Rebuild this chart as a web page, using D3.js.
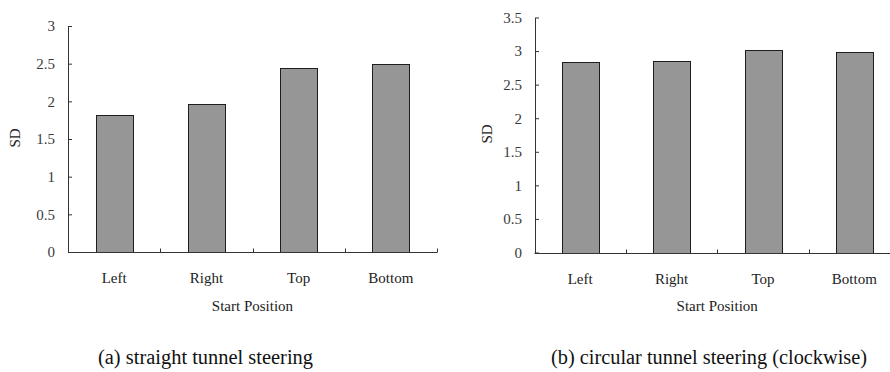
<!DOCTYPE html>
<html>
<head>
<meta charset="utf-8">
<script src="https://cdn.jsdelivr.net/npm/d3@7"></script>
<style>
  html, body { margin: 0; padding: 0; background: #fff; }
  svg { display: block; }
  svg text { font-family: "Liberation Serif", "Times New Roman", serif !important; }
</style>
</head>
<body>
<svg id="chart" width="890" height="372"></svg>
<script>
// Start positions shared by both panels
const categories = ["Left", "Right", "Top", "Bottom"];

// Standard deviation per start position
const straightSD = [1.82, 1.97, 2.44, 2.49];
const circularSD = [2.83, 2.85, 3.01, 2.99];

// Value-axis ticks for each panel
const straightTicks = [0, 0.5, 1, 1.5, 2, 2.5, 3];
const circularTicks = [0, 0.5, 1, 1.5, 2, 2.5, 3, 3.5];

const yLabel = "SD";
const xLabel = "Start Position";
const captions = ["(a) straight tunnel steering", "(b) circular tunnel steering (clockwise)"];

const svg = d3.select("#chart");

const panels = [
  {
    values: straightSD, ticks: straightTicks, yMax: 3,
    x0: 68, x1: 437, yTop: 26, yBottom: 252,
    ySDx: 20, ySDy: 138,
    caption: captions[0], capX: 98, capW: 215
  },
  {
    values: circularSD, ticks: circularTicks, yMax: 3.5,
    x0: 534.5, x1: 900, yTop: 17.5, yBottom: 252.5,
    ySDx: 492, ySDy: 134,
    caption: captions[1], capX: 551, capW: 316
  }
];

panels.forEach(p => {
  const g = svg.append("g");

  const y = d3.scaleLinear().domain([0, p.yMax]).range([p.yBottom, p.yTop]);

  // Slots for the category axis and narrower bands for the bars
  const slot = d3.scaleBand().domain(categories).range([p.x0, p.x1]);
  const xBar = d3.scaleBand().domain(categories).range([p.x0, p.x1])
    .paddingInner(0.6).paddingOuter(0.3);

  // Bars
  g.selectAll("rect.bar")
    .data(categories.map((c, i) => ({ c, v: p.values[i] })))
    .join("rect")
    .attr("class", "bar")
    .attr("x", d => Math.round(xBar(d.c)) + 0.5)
    .attr("y", d => Math.round(y(d.v)) + 0.5)
    .attr("width", Math.round(xBar.bandwidth()))
    .attr("height", d => Math.round(y(0)) - Math.round(y(d.v)))
    .attr("fill", "#969696")
    .attr("stroke", "#1e1e1e")
    .attr("stroke-width", 1);

  // Value axis with ticks pointing into the plot
  const yAxis = d3.axisLeft(y)
    .tickValues(p.ticks)
    .tickFormat(d3.format("~g"))
    .tickSizeInner(-4)
    .tickSizeOuter(0)
    .tickPadding(13);

  const ya = g.append("g")
    .attr("transform", `translate(${Math.round(p.x0)},0)`)
    .call(yAxis)
    .attr("font-family", null)
    .attr("font-size", null);
  ya.select(".domain").attr("stroke", "#333");
  ya.selectAll(".tick line").attr("stroke", "#333");
  ya.selectAll(".tick text")
    .attr("fill", "#3a3a3a")
    .style("font-size", "15px");

  // Category axis line
  const yb = Math.round(y(0)) + 0.5;
  g.append("line")
    .attr("x1", p.x0).attr("x2", p.x1)
    .attr("y1", yb).attr("y2", yb)
    .attr("stroke", "#333");

  // Divider ticks between categories, pointing up
  g.selectAll("line.divider")
    .data(categories)
    .join("line")
    .attr("class", "divider")
    .attr("x1", d => Math.round(slot(d) + slot.step()) + 0.5)
    .attr("x2", d => Math.round(slot(d) + slot.step()) + 0.5)
    .attr("y1", yb).attr("y2", yb - 4)
    .attr("stroke", "#333");

  // Category labels
  g.selectAll("text.cat")
    .data(categories)
    .join("text")
    .attr("class", "cat")
    .attr("x", d => slot(d) + slot.step() / 2)
    .attr("y", yb + 30)
    .attr("text-anchor", "middle")
    .attr("fill", "#222")
    .style("font-size", "15px")
    .text(d => d);

  // Axis titles
  g.append("text")
    .attr("x", (p.x0 + p.x1) / 2)
    .attr("y", 311)
    .attr("text-anchor", "middle")
    .attr("fill", "#222")
    .style("font-size", "15px")
    .text(xLabel);

  g.append("text")
    .attr("transform", `translate(${p.ySDx},${p.ySDy}) rotate(-90)`)
    .attr("text-anchor", "middle")
    .attr("fill", "#222")
    .style("font-size", "15px")
    .text(yLabel);

  // Panel caption
  g.append("text")
    .attr("x", p.capX)
    .attr("y", 364)
    .attr("textLength", p.capW)
    .attr("lengthAdjust", "spacingAndGlyphs")
    .attr("fill", "#111")
    .style("font-size", "20px")
    .text(p.caption);
});
</script>
</body>
</html>
